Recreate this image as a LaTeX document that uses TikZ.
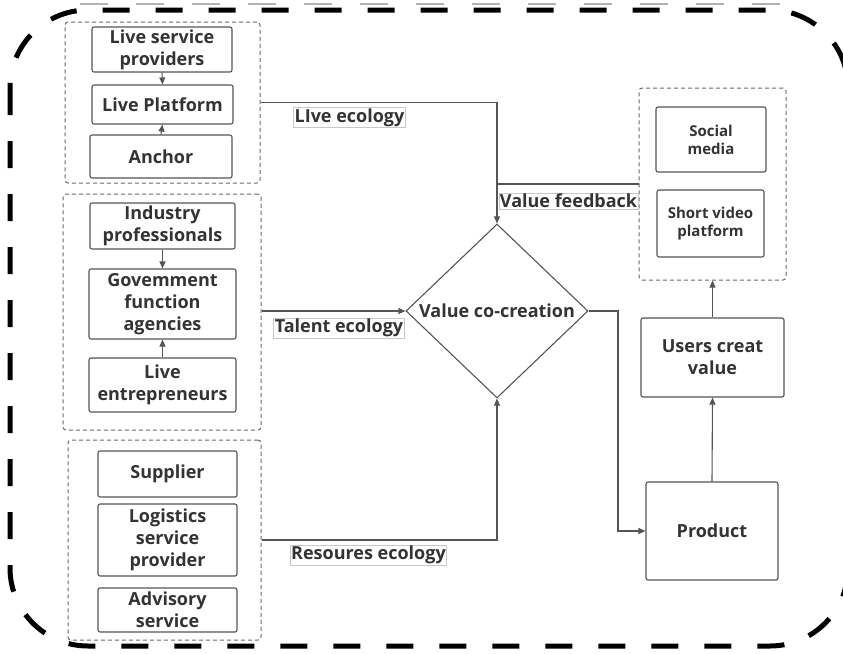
\documentclass[tikz,border=0pt]{standalone}
\usepackage{fontspec}
\setmainfont{Open Sans}
\usetikzlibrary{shapes.geometric,arrows.meta}
\definecolor{ln}{HTML}{555555}
\definecolor{tx}{HTML}{333333}
\definecolor{gd}{HTML}{6A6A6A}
\definecolor{lb}{HTML}{C8C8C8}
\begin{document}
\begin{tikzpicture}[x=1pt,y=-1pt,
  box/.style={draw=ln, line width=1.1pt, rounded corners=2pt, align=center, text=tx,
    font=\bfseries\fontsize{18}{22}\selectfont, inner sep=0pt},
  smallbox/.style={box, font=\bfseries\fontsize{15}{18}\selectfont},
  grp/.style={draw=gd, dash pattern=on 4pt off 3pt, line width=1pt, rounded corners=3pt, inner sep=0pt},
  lbl/.style={draw=lb, fill=white, line width=0.8pt, text=tx,
    font=\bfseries\fontsize{18}{21}\selectfont, inner sep=1pt},
  conn/.style={draw=ln, line width=1.1pt},
  arr/.style={conn, -{Triangle[width=6pt,length=7pt]}},
  dia/.style={draw=ln, line width=1.1pt, shape=diamond, inner sep=0pt, text=tx,
    font=\bfseries\fontsize{18}{21}\selectfont}
]
\useasboundingbox (0,0) rectangle (843,653);
% outer frame
\draw[line width=5pt, dash pattern=on 27pt off 26pt, rounded corners=78pt] (10,10) rectangle (848,646);
\draw[gray!60, line width=1.5pt, dash pattern=on 28pt off 28pt] (80,4) -- (786,4);

% group 1
\node[grp, minimum width=195pt, minimum height=161pt] (g1) at (162.5,102.5) {};
\node[box, minimum width=140pt, minimum height=45pt] (lsp) at (162,49.5) {Live service\\providers};
\node[box, minimum width=141pt, minimum height=39pt] (lp) at (162.5,104.5) {Live Platform};
\node[box, minimum width=142pt, minimum height=43pt] (anc) at (161,156.5) {Anchor};

% group 2
\node[grp, minimum width=198pt, minimum height=236pt] (g2) at (162,312) {};
\node[box, minimum width=145pt, minimum height=46pt] (ip) at (162.5,226) {Industry\\professionals};
\node[box, minimum width=147pt, minimum height=70pt] (gfa) at (162.5,304) {Govemment\\function\\agencies};
\node[box, minimum width=147pt, minimum height=54pt] (le) at (162.5,385) {Live\\entrepreneurs};

% group 3
\node[grp, minimum width=193pt, minimum height=200pt] (g3) at (164.5,540) {};
\node[box, minimum width=139pt, minimum height=46pt] (sup) at (167.5,474) {Supplier};
\node[box, minimum width=139pt, minimum height=72pt] (lsp2) at (167.5,540) {Logistics\\service\\provider};
\node[box, minimum width=139pt, minimum height=44pt] (adv) at (167.5,610) {Advisory\\service};

% diamond
\node[dia, minimum width=182pt, minimum height=174pt] (vc) at (497,311) {\makebox[0pt]{Value co-creation}};

% right side
\node[grp, minimum width=147pt, minimum height=192pt] (sg) at (712.5,184) {};
\node[smallbox, minimum width=110pt, minimum height=65pt] (sm) at (711,139.5) {Social\\media};
\node[smallbox, minimum width=107pt, minimum height=67pt] (sv) at (710.5,223.5) {Short video\\platform};
\node[box, minimum width=143pt, minimum height=79pt] (ucv) at (712.5,357.5) {Users creat\\value};
\node[box, minimum width=132pt, minimum height=98pt] (prod) at (712,531) {Product};

% connectors inside groups
\draw[arr] (lsp.south) -- (lp.north);
\draw[arr] (anc.north) -- (lp.south);
\draw[arr] (ip.south) -- (gfa.north);
\draw[arr] (le.north) -- (gfa.south);

% main connectors
\draw[arr] (g1.east) -| (vc.north);
\draw[conn] (sg.west) -- (sg.west -| vc.north);
\draw[arr] (g2.east |- vc.west) -- (vc.west);
\draw[arr] (g3.east) -| (vc.south);
\coordinate (bend) at (618,311);
\draw[arr] (vc.east) -- (bend) |- (prod.west);
\draw[arr] (prod.north) -- (ucv.south);
\draw[arr] (ucv.north) -- (sg.south);

% labels
\node[lbl] (l1) at (349.5,117.5) {LIve ecology};
\node[lbl] (l2) at (568.5,201) {Value feedback};
\node[lbl] (l3) at (339,328) {Talent ecology};
\node[lbl] (l4) at (368.5,555) {Resoures ecology};
\end{tikzpicture}
\end{document}
